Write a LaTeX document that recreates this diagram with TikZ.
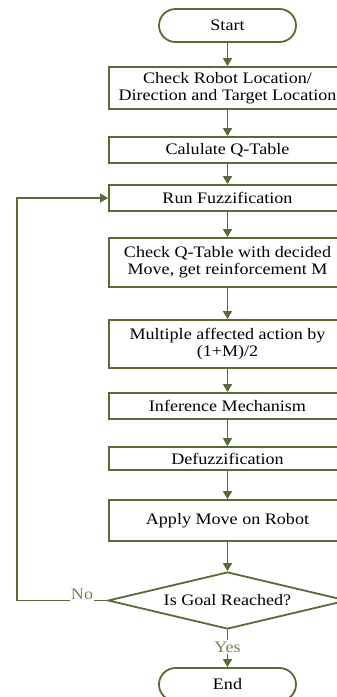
\documentclass[tikz,border=0pt]{standalone}
\usepackage{fontspec}
\setmainfont[FakeStretch=1.13]{Liberation Serif}
\usetikzlibrary{arrows.meta,shapes.geometric}
\definecolor{olive}{HTML}{566B36}
\definecolor{lolive}{HTML}{72845A}
\begin{document}
\begin{tikzpicture}[x=1pt,y=-1pt,
  every node/.style={font=\fontsize{16}{17}\selectfont},
  stepbox/.style={draw=olive,line width=1.8pt,fill=white,minimum width=237pt,inner sep=0pt,align=center},
  term/.style={draw=olive,line width=1.8pt,fill=white,minimum width=137pt,minimum height=33pt,rounded corners=16.5pt,inner sep=0pt},
  decide/.style={draw=olive,line width=1.8pt,fill=white,diamond,shape aspect=4.2,minimum width=239pt,minimum height=57pt,inner sep=0pt},
  flow/.style={draw=olive,line width=1.6pt},
  arr/.style={flow,-{Triangle[width=9pt,length=8pt]}},
  lab/.style={text=lolive,inner sep=1pt}
]
\clip (0,0) rectangle (337,697);
\useasboundingbox (0,0) rectangle (337,697);
\node[term] (start) at (227.5,25.5) {Start};
\node[stepbox,minimum height=42pt] (b1) at (227.5,88) {Check Robot Location/\\Direction and Target Location};
\node[stepbox,minimum height=26pt] (b2) at (227.5,150) {Calulate Q-Table};
\node[stepbox,minimum height=26pt] (b3) at (227.5,198) {Run Fuzzification};
\node[stepbox,minimum height=49pt] (b4) at (227.5,262.5) {Check Q-Table with decided\\Move, get reinforcement M};
\node[stepbox,minimum height=48pt] (b5) at (227.5,344) {Multiple affected action by\\(1+M)/2};
\node[stepbox,minimum height=26pt] (b6) at (227.5,406) {Inference Mechanism};
\node[stepbox,minimum height=23pt] (b7) at (227.5,458.5) {Defuzzification};
\node[stepbox,minimum height=41pt] (b8) at (227.5,520.5) {Apply Move on Robot};
\node[decide] (dia) at (227.5,600.5) {Is Goal Reached?};
\node[term] (end) at (227.5,684.5) {End};
\node[lab] (no) at (82,594) {No};
\node[lab] (yes) at (227.5,647) {Yes};
\coordinate (lp) at (17,600.5);
\draw[arr] (start) -- (b1);
\draw[arr] (b1) -- (b2);
\draw[arr] (b2) -- (b3);
\draw[arr] (b3) -- (b4);
\draw[arr] (b4) -- (b5);
\draw[arr] (b5) -- (b6);
\draw[arr] (b6) -- (b7);
\draw[arr] (b7) -- (b8);
\draw[arr] (b8) -- (dia);
\draw[flow] (dia.west) -- (no.east |- dia.west);
\draw[arr] (no.west |- dia.west) -- (lp) |- (b3.west);
\draw[flow] (dia.south) -- (yes.north);
\draw[arr] (yes.south) -- (end.north);
\end{tikzpicture}
\end{document}
